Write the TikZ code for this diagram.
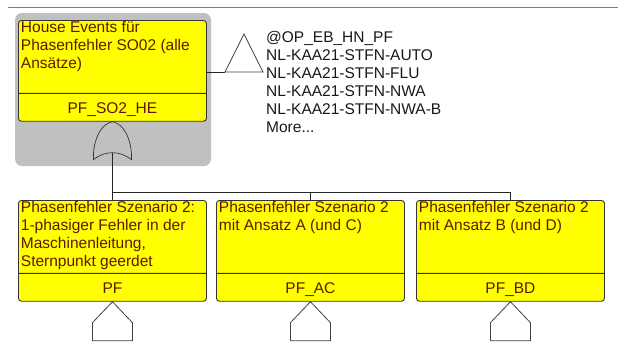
\documentclass[tikz,border=0pt]{standalone}
\usepackage{fontspec}
\setmainfont{Liberation Sans}
\usetikzlibrary{shapes.multipart}
\definecolor{evyellow}{RGB}{255,255,0}
\definecolor{evtext}{RGB}{96,24,0}
\definecolor{hlgray}{RGB}{192,192,192}
\definecolor{rulegray}{RGB}{128,128,128}
\newcommand{\evfont}{\fontsize{15.5}{18}\selectfont}
\newcommand{\evtext}[2]{\parbox[t][72pt][t]{183pt}{\raggedright\rule{0pt}{12pt}#1}%
  \nodepart{two}\parbox[t][27pt][t]{183pt}{\centering\rule{0pt}{20pt}#2}}
\tikzstyle{event}=[draw=black!80, fill=evyellow, line width=0.9pt, rounded corners=3pt,
  rectangle split, rectangle split parts=2, inner xsep=2.5pt, inner ysep=0pt,
  text=evtext, font=\evfont, anchor=north west]
\tikzstyle{link}=[draw=black!85, line width=0.8pt]
\tikzstyle{xfer}=[draw=black!75, line width=0.8pt]
\tikzstyle{gate}=[draw=black!80, line width=0.7pt]
\tikzstyle{evlist}=[font=\evfont, align=left, inner sep=0pt, text=black!90]

\begin{document}
\begin{tikzpicture}[x=1pt, y=-1pt]
    \useasboundingbox (0,0) rectangle (618,341);
    \draw[rulegray, line width=1pt] (8,7) -- (618,7);
    % selected gate
    \fill[hlgray, rounded corners=7pt] (15,13) rectangle (211,166);
    \node[event] (HE)   at (18,20)   {\evtext{House Events für\\Phasenfehler SO02 (alle\\Ansätze)}{PF\_SO2\_HE}};
    \node[event] (PF)   at (18,200)  {\evtext{Phasenfehler Szenario 2:\\1-phasiger Fehler in der\\Maschinenleitung,\\Sternpunkt geerdet}{PF}};
    \node[event] (PFAC) at (216,200) {\evtext{Phasenfehler Szenario 2\\mit Ansatz A (und C)}{PF\_AC}};
    \node[event] (PFBD) at (416,200) {\evtext{Phasenfehler Szenario 2\\mit Ansatz B (und D)}{PF\_BD}};
    % or gate
    \draw[gate, shift={(HE.south)}] (0,0) .. controls (-11,2) and (-18,16) .. (-19,32) -- (-19,38)
        .. controls (-13,33) and (-6,31) .. (0,31) .. controls (6,31) and (13,33) .. (19,38)
        -- (19,32) .. controls (18,16) and (11,2) .. cycle;
    \coordinate (Gout) at ([yshift=-31pt]HE.south);
    \coordinate (bus)  at (PF.north |- 0,192);
    \draw[link] (Gout) -- (PF.north);
    \draw[link] (bus) -| (PFAC.north);
    \draw[link] (bus) -| (PFBD.north);
    % transfer in
    \coordinate (T) at (225,72);
    \draw[link] (HE.east |- T) -- (T);
    \draw[xfer] (T) -- ++(19,-38) -- ++(19,38) -- cycle;
    \node[evlist, anchor=north west] (HElist) at (266,31)
        {@OP\_EB\_HN\_PF\\NL-KAA21-STFN-AUTO\\NL-KAA21-STFN-FLU\\NL-KAA21-STFN-NWA\\NL-KAA21-STFN-NWA-B\\More...};
    % transfer out
    \foreach \n in {PF,PFAC,PFBD}
        \draw[xfer] (\n.south) -- ++(-20,21) -- ++(0,18) -- ++(40,0) -- ++(0,-18) -- cycle;
\end{tikzpicture}
\end{document}
